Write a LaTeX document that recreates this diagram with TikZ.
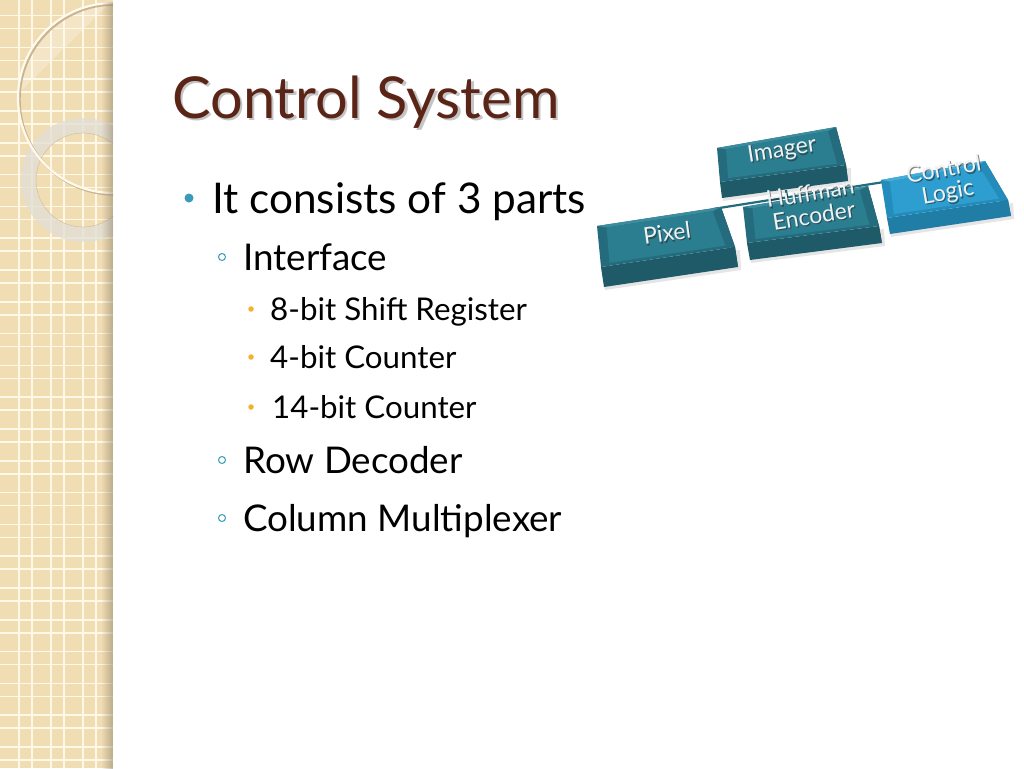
\documentclass[tikz,border=0pt]{standalone}
\usepackage{fontspec}
\setmainfont{Lato}
\usetikzlibrary{calc,fadings}
\definecolor{stripbg}{HTML}{F1DDB3}
\definecolor{stripline}{HTML}{FFF8E6}
\definecolor{stripedge}{HTML}{8E8068}
\definecolor{ringgray}{HTML}{E2DFD7}
\definecolor{circlecream}{HTML}{FFFAEE}
\definecolor{circleshade}{HTML}{BFA882}
\definecolor{titlebrown}{HTML}{5A2416}
\definecolor{bulteal}{HTML}{3A9AB8}
\definecolor{bulorange}{HTML}{F2B22A}
\definecolor{capwhite}{HTML}{EEF2F3}
\definecolor{tealout}{HTML}{246C7D}
\definecolor{tealin}{HTML}{2B7D90}
\definecolor{tealtop}{HTML}{3A8C9E}
\definecolor{tealfront}{HTML}{1E5A68}
\definecolor{tealside}{HTML}{194F5D}
\definecolor{blueout}{HTML}{248CBA}
\definecolor{bluein}{HTML}{2E9ED0}
\definecolor{bluetop}{HTML}{46ACD8}
\definecolor{bluefront}{HTML}{1F7DA6}
\definecolor{blueside}{HTML}{1A6C92}
\tikzfading[name=fadeR, left color=transparent!100, right color=transparent!0]
\newcommand\keycap[7]{%
  \coordinate (#1-tl) at (#2);
  \coordinate (#1-tr) at (#3);
  \coordinate (#1-br) at (#4);
  \coordinate (#1-bl) at (#5);
  \coordinate (#1-tr2) at ($(#1-tr)+(#6)$);
  \coordinate (#1-br2) at ($(#1-br)+(#6)$);
  \coordinate (#1-bl2) at ($(#1-bl)+(#6)$);
  \coordinate (#1-itl) at ($(#1-tl)!0.07!(#1-br)$);
  \coordinate (#1-itr) at ($(#1-tr)!0.07!(#1-bl)$);
  \coordinate (#1-ibr) at ($(#1-br)!0.07!(#1-tl)$);
  \coordinate (#1-ibl) at ($(#1-bl)!0.07!(#1-tr)$);
  \fill[black,opacity=0.10] ($(#1-bl2)+(1,3)$) -- ($(#1-br2)+(3,3)$) -- ($(#1-br)+(5,3)$) -- (#1-bl) -- cycle;
  \fill[#7side] (#1-tr) -- (#1-tr2) -- (#1-br2) -- (#1-br) -- cycle;
  \fill[#7front] (#1-bl) -- (#1-br) -- (#1-br2) -- (#1-bl2) -- cycle;
  \fill[#7out] (#1-tl) -- (#1-tr) -- (#1-br) -- (#1-bl) -- cycle;
  \fill[#7top] (#1-tl) -- (#1-tr) -- (#1-itr) -- (#1-itl) -- cycle;
  \fill[#7in] (#1-itl) -- (#1-itr) -- (#1-ibr) -- (#1-ibl) -- cycle;
}
\tikzset{
  captext/.style={text=capwhite, font=\fontsize{23}{23}\selectfont, align=center, inner sep=0pt},
  capshadow/.style={text=black!85, opacity=0.55, font=\fontsize{23}{23}\selectfont, align=center, inner sep=0pt},
  lvlone/.style={anchor=base west, inner sep=0pt, font=\fontsize{42.3}{44}\selectfont},
  lvltwo/.style={anchor=base west, inner sep=0pt, font=\fontsize{36.8}{38}\selectfont},
  lvlthree/.style={anchor=base west, inner sep=0pt, font=\fontsize{31.3}{33}\selectfont},
  ringbul/.style={draw=bulteal, line width=1pt, circle, minimum size=7pt, inner sep=0pt},
  dotbul/.style={fill=bulorange, circle, minimum size=5.5pt, inner sep=0pt},
  bus/.style={draw=tealout, line width=2.2pt}
}
\begin{document}
\begin{tikzpicture}[x=1pt,y=-1pt]
\path[use as bounding box, fill=white] (0,0) rectangle (1024,768);
% ---- decorative strip ----
\fill[stripbg] (0,0) rectangle (113,768);
\foreach \k in {0,...,24}{
  \pgfmathsetmacro\ya{15.6+31.8*\k}
  \pgfmathsetmacro\yb{28.6+31.8*\k}
  \draw[stripline, line width=1.6pt] (0,\ya) -- (113,\ya);
  \draw[stripline, line width=1.6pt] (0,\yb) -- (113,\yb);
}
\foreach \x in {19,32,51,64,83,96}{
  \draw[stripline, line width=1.6pt] (\x,0) -- (\x,768);
}
\begin{scope}
  \clip (0,0) rectangle (113,768);
  \begin{scope}
    \clip (113,98) circle[radius=95];
    \fill[white, opacity=0.25] (0,0) -- (113,0) -- (20,92) -- (0,92) -- cycle;
  \end{scope}
  \fill[ringgray, opacity=0.8, even odd rule] (83,180) circle[radius=62] (83,180) circle[radius=47];
  \draw[circleshade, opacity=0.5, line width=0.6pt] (83,180) circle[radius=47];
  \draw[circleshade, line width=2.4pt, opacity=0.8] (114.5,99.5) circle[radius=95];
  \draw[circlecream, line width=2.2pt] (113,98) circle[radius=95];
\end{scope}
\fill[stripedge, path fading=fadeR, opacity=0.55] (101,0) rectangle (113,768);
% ---- title and bullets ----
\node[anchor=base west, inner sep=0pt, font=\fontsize{57.8}{60}\selectfont, text=gray, opacity=0.45] (titleshadow) at (174.5,120.5) {Control System};
\node[anchor=base west, inner sep=0pt, font=\fontsize{57.8}{60}\selectfont, text=titlebrown] (title) at (172,118) {Control System};
\node[fill=bulteal, circle, minimum size=9pt, inner sep=0pt] (b1) at (189,198) {};
\node[lvlone] (t1) at (212,213) {It consists of 3 parts};
\node[ringbul] (b2) at (222,257) {};
\node[lvltwo] (t2) at (243,270) {Interface};
\node[dotbul] (b3) at (251,309) {};
\node[lvlthree] (t3) at (270,320) {8-bit Shift Register};
\node[dotbul] (b4) at (251,357) {};
\node[lvlthree] (t4) at (270,368) {4-bit Counter};
\node[dotbul] (b5) at (251,407) {};
\node[lvlthree] (t5) at (272,418) {14-bit Counter};
\node[ringbul] (b6) at (222,460) {};
\node[lvltwo] (t6) at (243,473) {Row Decoder};
\node[ringbul] (b7) at (222,518) {};
\node[lvltwo] (t7) at (243,531) {Column Multiplexer};
% ---- block diagram ----
\coordinate (busL) at (713,209);
\coordinate (busR) at (884,182);
\coordinate (imgdown) at (786,190);
\coordinate (busM) at ($(busL)!(imgdown)!(busR)$);
\draw[bus] (busL) -- (busR);
\draw[bus] (imgdown) -- (busM);
\keycap{imager}{717,148}{836,127}{846,165}{720,182}{2,16}{teal}
\keycap{pixel}{597,226}{721,207}{735,247}{601,267}{3,20}{teal}
\keycap{huff}{743,207}{868,186}{879,226}{747,243}{3,17}{teal}
\keycap{ctrl}{881,180}{985,161}{1008,200}{887,218}{3,16}{blue}
\node[capshadow, rotate=9] (imager-ts) at (783.2,152.4) {Imager};
\node[captext, rotate=9] (imager-t) at (782,151) {Imager};
\node[capshadow, rotate=8] (pixel-ts) at (668.2,234.4) {Pixel};
\node[captext, rotate=8] (pixel-t) at (667,233) {Pixel};
\node[capshadow, rotate=9] (huff-ts) at (813.2,205.4) {Huffman\\Encoder};
\node[captext, rotate=9] (huff-t) at (812,204) {Huffman\\Encoder};
\node[capshadow, rotate=10] (ctrl-ts) at (947.2,183.4) {Control\\Logic};
\node[captext, rotate=10] (ctrl-t) at (946,182) {Control\\Logic};
\end{tikzpicture}
\end{document}
